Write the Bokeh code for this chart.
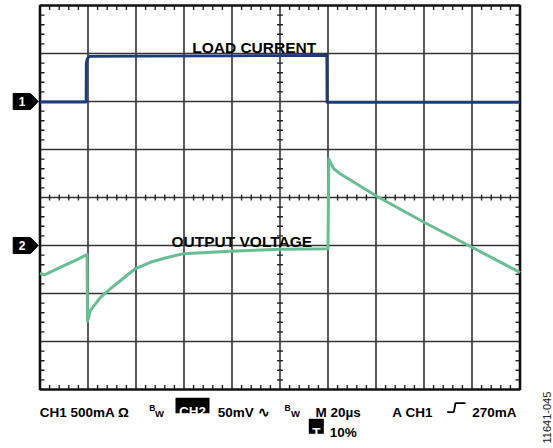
import numpy as np
from bokeh.plotting import figure
from bokeh.models import Range1d
from bokeh.core.properties import value
from bokeh.embed import file_html
from bokeh.resources import INLINE

time_us_ch1 = [0, 19.2, 19.3, 19.7, 20.6, 40, 80, 119.5, 119.6, 200]
load_current_ma = [-5, -5, 400, 445, 470, 472, 476, 480, -10, -10]

time_us_ch2 = [0, 1.9, 8.6, 14.8, 19.6, 19.8, 21.0, 25.2, 29.4, 33.6, 39.8, 46.0,
               52.2, 59.8, 79.4, 100.2, 120.0, 120.33, 121.04, 122.42, 125.21,
               132.71, 140.5, 160.21, 180.21, 200]
output_voltage_mv = [-29, -30.5, -22.5, -15.5, -9.5, -79, -67.5, -54, -45, -36.5, -24,
                     -17.5, -13, -8.5, -6, -4, -3.4, 90.3, 86.5, 79.9, 74.5,
                     63.0, 51.0, 24.0, -2.1, -28.1]

time_per_div_us = 20
ch1_scale_ma = 500
ch2_scale_mv = 50
ch1_position_div = 2
ch2_position_div = -1
n_xdiv, n_ydiv = 10, 8

trace_labels = ["LOAD CURRENT", "OUTPUT VOLTAGE"]
footer_line1 = ["CH1 500mA \u03a9", "CH2", "50mV \u223f", "M 20\u00b5s", "A", "CH1", "270mA"]
footer_line2 = ["T", "10%"]
figure_id = "11641-045"

# ---------------- layout helpers ----------------
W, H = 553, 448
PX = 48.0  # pixels per division


def px(xr):
    return (xr - 39.5) / PX


def py(yr):
    return (197 - yr) / PX


x0, x1 = px(0), px(W)
y0, y1 = py(H), py(0)

p = figure(width=W, height=H, x_range=Range1d(x0, x1), y_range=Range1d(y0, y1),
           output_backend="svg", toolbar_location=None, min_border=0,
           x_axis_location=None, y_axis_location=None)
p.grid.visible = False
p.outline_line_color = None
p.background_fill_color = "white"
p.border_fill_color = "white"

p.extra_x_ranges = {"t": Range1d(x0 * time_per_div_us, x1 * time_per_div_us)}
p.extra_y_ranges = {
    "ch1": Range1d((y0 - ch1_position_div) * ch1_scale_ma, (y1 - ch1_position_div) * ch1_scale_ma),
    "ch2": Range1d((y0 - ch2_position_div) * ch2_scale_mv, (y1 - ch2_position_div) * ch2_scale_mv),
}

half_y = n_ydiv / 2

# ---------------- graticule ----------------
inner_x = list(range(1, n_xdiv))
inner_y = [v - half_y for v in range(1, n_ydiv)]
p.segment(x0=inner_x, y0=[-half_y] * len(inner_x), x1=inner_x, y1=[half_y] * len(inner_x),
          line_color="#333333", line_width=1.6)
p.segment(x0=[0] * len(inner_y), y0=inner_y, x1=[n_xdiv] * len(inner_y), y1=inner_y,
          line_color="#333333", line_width=1.6)

mx = [i * 0.2 for i in range(n_xdiv * 5 + 1) if i % 5 != 0]
my = [-half_y + i * 0.2 for i in range(n_ydiv * 5 + 1) if i % 5 != 0]
tl = 4.5 / PX
tc = 3.0 / PX
sx0, sy0, sx1, sy1 = [], [], [], []
for x in mx:
    sx0 += [x, x, x]
    sx1 += [x, x, x]
    sy0 += [half_y, -half_y, -tc]
    sy1 += [half_y - tl, -half_y + tl, tc]
for y in my:
    sy0 += [y, y, y]
    sy1 += [y, y, y]
    sx0 += [0, n_xdiv, n_xdiv / 2 - tc]
    sx1 += [tl, n_xdiv - tl, n_xdiv / 2 + tc]
p.segment(x0=sx0, y0=sy0, x1=sx1, y1=sy1, line_color="#222222", line_width=1.4)

p.rect(x=[n_xdiv / 2], y=[0], width=n_xdiv, height=n_ydiv, fill_color=None,
       line_color="#111111", line_width=2.6)

# ---------------- traces ----------------
p.line(time_us_ch2, output_voltage_mv, x_range_name="t", y_range_name="ch2",
       line_color="#68bd92", line_width=3, line_join="round")
p.line(time_us_ch1, load_current_ma, x_range_name="t", y_range_name="ch1",
       line_color="#1b3b80", line_width=2.8, line_join="round")

# ---------------- channel markers ----------------
font = value("Liberation Sans")
for lvl, lab in [(ch1_position_div, "1"), (ch2_position_div, "2")]:
    h = 8 / PX
    p.patch(x=[px(12.7), px(30), px(37.7), px(30), px(12.7)],
            y=[lvl + h, lvl + h, lvl, lvl - h, lvl - h], fill_color="black", line_color="black")
    p.text(x=[px(21.5)], y=[lvl], text=[lab], text_color="white", text_align="center",
           text_baseline="middle", text_font=font, text_font_style="bold",
           text_font_size="12px")

# ---------------- labels ----------------
p.text(x=[px(191.7), px(171)], y=[py(46.7), py(240.7)], text=trace_labels,
       text_font=font, text_font_style="bold", text_font_size="15.5px",
       text_color="black", text_baseline="alphabetic")

# footer
p.quad(left=[px(175), px(308.3)], right=[px(209), px(323.3)],
       top=[py(397.3), py(418.3)], bottom=[py(412.7), py(433.3)],
       fill_color="black", line_color=None)
p.text(x=[px(39.3), px(217.3), px(315), px(391.7), px(405), px(471.7), px(329.3)],
       y=[py(411.7)] * 6 + [py(432.3)],
       text=[footer_line1[0], footer_line1[2], footer_line1[3], footer_line1[4],
             footer_line1[5], footer_line1[6], footer_line2[1]],
       text_font=font, text_font_style="bold", text_font_size="13.5px",
       text_color="black", text_baseline="alphabetic")
p.text(x=[px(192), px(315.8)], y=[py(411.3), py(432)], text=[footer_line1[1], footer_line2[0]],
       text_font=font, text_font_style="bold", text_font_size="13.5px",
       text_color="white", text_align="center", text_baseline="alphabetic")
# bandwidth-limit marks
p.text(x=[px(148.7), px(284)], y=[py(407.3)] * 2, text=["B", "B"],
       text_font=font, text_font_style="bold", text_font_size="8.5px",
       text_color="black", text_baseline="alphabetic")
p.text(x=[px(154.5), px(290.5)], y=[py(413)] * 2, text=["W", "W"],
       text_font=font, text_font_style="bold", text_font_size="9.5px",
       text_color="black", text_baseline="alphabetic")
# rising-edge trigger symbol
p.line(x=[px(446.7), px(453.3), px(455), px(465)],
       y=[py(411.7), py(411.7), py(402.7), py(402.7)], line_color="black", line_width=1.8)

# figure id, vertical
p.text(x=[px(546.5)], y=[py(443)], text=[figure_id], angle=np.pi / 2,
       text_font=font, text_font_size="11px", text_color="#222222",
       text_baseline="middle", text_align="left")

open("out.html", "w").write(file_html(p, INLINE))
